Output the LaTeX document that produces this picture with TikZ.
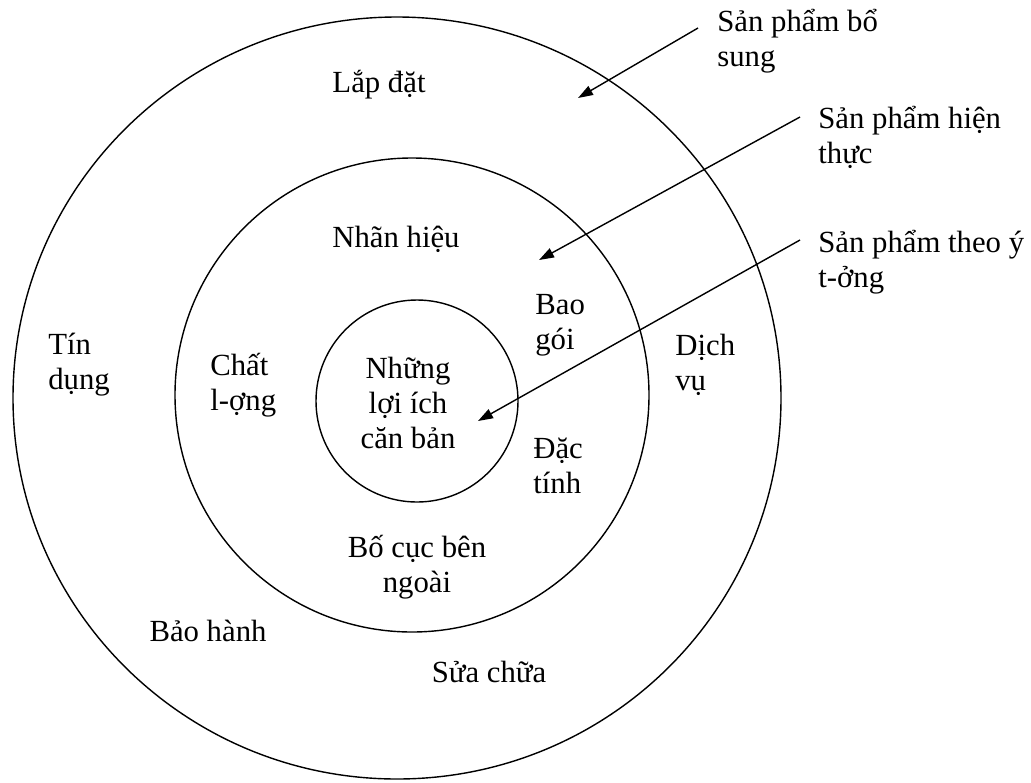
\documentclass[tikz,border=0pt]{standalone}
\usepackage{fontspec}
\setmainfont{Liberation Serif}
\usetikzlibrary{arrows.meta}

\begin{document}
\begin{tikzpicture}[x=0.02cm, y=-0.02cm,
  ring/.style={draw, line width=0.8pt},
  lbl/.style={font=\fontsize{17.5}{20}\selectfont, align=center, inner sep=0pt},
  lblw/.style={lbl, align=left, anchor=west},
  arr/.style={-{Triangle[length=0.3cm, width=0.2cm]}, line width=0.8pt}
]
  \useasboundingbox (0,0) rectangle (1031,782);

  % three levels of the product
  \draw[ring] (397,398) ellipse [x radius=384, y radius=381];
  \draw[ring] (412,395) circle [radius=237];
  \draw[ring] (417,401) circle [radius=101];

  % core
  \node[lbl] (core) at (408,403) {Những\\lợi ích\\căn bản};

  % actual product
  \node[lbl] (brand) at (396,239) {Nhãn hiệu};
  \node[lblw] (pack) at (535,325) {Bao\\gói};
  \node[lblw] (qual) at (210,385) {Chất\\l-ợng};
  \node[lblw] (feat) at (533,466) {Đặc\\tính};
  \node[lbl] (design) at (417,567) {Bố cục bên\\ngoài};

  % augmented product
  \node[lbl] (install) at (379,85) {Lắp đặt};
  \node[lblw] (credit) at (48,365) {Tín\\dụng};
  \node[lblw] (service) at (675,365) {Dịch\\vụ};
  \node[lbl] (warranty) at (208,631) {Bảo hành};
  \node[lbl] (repair) at (489,672) {Sửa chữa};

  % captions on the right
  \node[lblw] (bosung) at (717,41) {Sản phẩm bổ\\sung};
  \node[lblw] (hienthuc) at (818,137) {Sản phẩm hiện\\thực};
  \node[lblw] (yt) at (818,262) {Sản phẩm theo ý\\t-ởng};

  \coordinate (t1) at (698,28);
  \coordinate (h1) at (578,98);
  \coordinate (t2) at (800,117);
  \coordinate (h2) at (539,260);
  \coordinate (t3) at (800,240);
  \coordinate (h3) at (478,421);

  \draw[arr] (t1) -- (h1);
  \draw[arr] (t2) -- (h2);
  \draw[arr] (t3) -- (h3);
\end{tikzpicture}
\end{document}
